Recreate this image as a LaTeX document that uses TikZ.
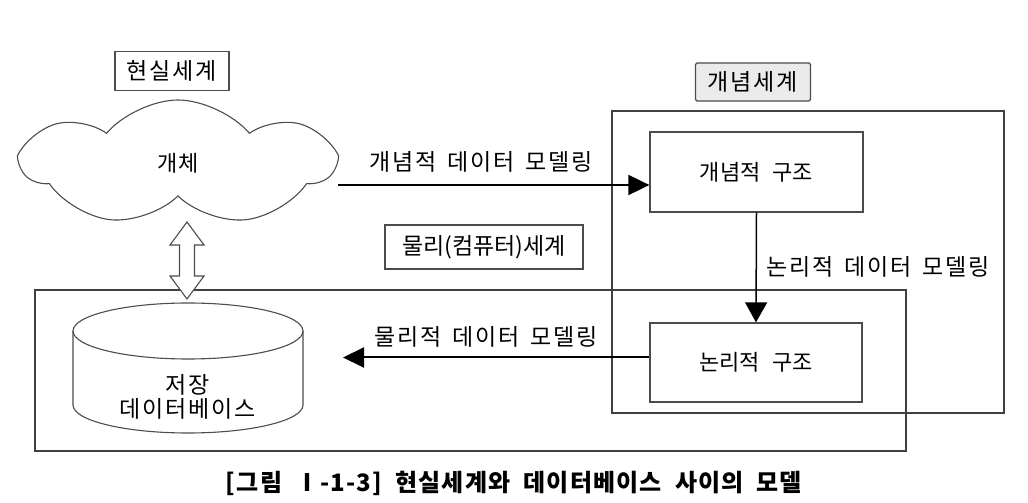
\documentclass[tikz,border=0pt]{standalone}
\usepackage{fontspec}
\setmainfont{Noto Sans CJK KR}
\usetikzlibrary{shapes.geometric, shapes.symbols, arrows.meta, positioning}
\newcommand{\boxfont}{\fontsize{22}{28}\selectfont\spaceskip=12pt\relax}
\newcommand{\lblfont}{\fontsize{23}{28}\selectfont\addfontfeature{LetterSpace=8}\spaceskip=11pt\relax}
\newcommand{\capfont}{\fontsize{24}{28}\selectfont\bfseries\addfontfeature{LetterSpace=5}\spaceskip=13pt\relax}
\tikzstyle{box} = [rectangle, draw=black!70, line width=1.3pt, fill=white, inner sep=0pt, text centered, font=\boxfont]
\tikzstyle{world} = [box, line width=1.2pt, font=\lblfont]
\tikzstyle{frame} = [rectangle, draw=black!75, line width=1.1pt, inner sep=0pt]
\tikzstyle{lbl} = [inner sep=0pt, font=\lblfont]
\tikzstyle{arrow} = [line width=2pt, -{Triangle[length=21pt,width=20pt]}]
\tikzstyle{varrow} = [line width=1.5pt, -{Triangle[length=20pt,width=22pt]}]
\tikzstyle{outline} = [draw=black!70, line width=1.1pt]
\begin{document}
\begin{tikzpicture}[x=1pt, y=1pt]
    \useasboundingbox (0,0) rectangle (1028,503);
    % frames
    \node[frame, minimum width=392pt, minimum height=302pt] (concframe) at (808,241) {};
    \node[frame, minimum width=871pt, minimum height=161pt] (physframe) at (470.5,132.5) {};

    % real world
    \node[world, minimum width=114pt, minimum height=39pt] (realw) at (172,432) {현실세계};
    \node[cloud, outline, cloud puffs=7, cloud puff arc=100, cloud ignores aspect,
          minimum width=310pt, minimum height=126pt, font=\boxfont] (cloud) at (178,340) {개체};

    % conceptual world
    \node[world, fill=black!8, rounded corners=1.5pt, minimum width=115pt, minimum height=38pt] (conw) at (753,421) {개념세계};
    \node[box, minimum width=213pt, minimum height=80pt] (cstruct) at (756.5,331) {개념적 구조};
    \node[box, minimum width=212pt, minimum height=79pt] (lstruct) at (756,140.5) {논리적 구조};

    % physical world
    \node[world, minimum width=198pt, minimum height=44pt, font=\fontsize{23}{28}\selectfont] (physw) at (484,256) {물리(컴퓨터)세계};
    \draw[outline] (73,172) -- (73,98) arc[start angle=180, end angle=360, x radius=115pt, y radius=28pt] -- (303,172);
    \draw[outline] (188,172) ellipse[x radius=115pt, y radius=28pt];
    \node[lbl, align=center] (db) at (188,106) {저장\\[-4pt]데이터베이스};

    % connectors
    \coordinate (linktop) at (187,281);
    \coordinate (linkbot) at (187,204);
    \draw[outline, fill=white] (linktop) -- ++(17,-23) -- ++(-9.5,0) |- ([xshift=7.5pt, yshift=23pt]linkbot)
        -- ++(9.5,0) -- (linkbot) -- ++(-17,23) -- ++(9.5,0) |- ([xshift=-7.5pt, yshift=-23pt]linktop)
        -- ++(-9.5,0) -- cycle;

    \coordinate (cloudout) at ([yshift=-22pt]cloud.east);
    \draw[arrow] (cloudout) -- (cloudout -| cstruct.west)
        node[lbl, midway, above=12pt, xshift=-13pt] (cmodel) {개념적 데이터 모델링};

    \draw[varrow] (cstruct.south) -- (lstruct.north);
    \node[lbl] (lmodel) at (878,236) {논리적 데이터 모델링};

    \coordinate (lout) at ([yshift=5pt]lstruct.west);
    \coordinate (dbin) at (343,146);
    \draw[arrow] (lout) -- (lout -| dbin);
    \node[lbl] (pmodel) at (486,166) {물리적 데이터 모델링};

    % caption
    \node[inner sep=0pt, font=\capfont] (caption) at (514,20) {[그림 Ⅰ-1-3] 현실세계와 데이터베이스 사이의 모델};
\end{tikzpicture}
\end{document}
